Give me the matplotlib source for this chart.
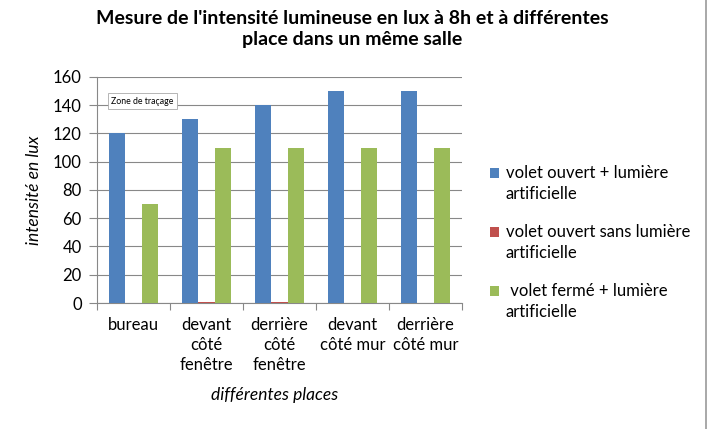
import matplotlib
matplotlib.use("Agg")
import matplotlib.pyplot as plt
import numpy as np
from matplotlib.lines import Line2D
from matplotlib.patches import Rectangle
from matplotlib.legend_handler import HandlerPatch

plt.rcParams['font.family'] = ['Lato', 'DejaVu Sans']

categories = ["bureau", "devant\ncôté\nfenêtre", "derrière\ncôté\nfenêtre", "devant\ncôté mur", "derrière\ncôté mur"]
series_names = ["volet ouvert + lumière\nartificielle",
                "volet ouvert sans lumière\nartificielle",
                " volet fermé + lumière\nartificielle"]
ouvert_lum = [120, 130, 140, 150, 150]
ouvert_sans = [0, 1, 1, 0, 0]
ferme_lum = [70, 110, 110, 110, 110]
colors = ["#4F81BD", "#C0504D", "#9BBB59"]
yticks = [0, 20, 40, 60, 80, 100, 120, 140, 160]

fig = plt.figure(figsize=(7.1, 4.29), dpi=100)
ax = fig.add_axes([97/710, 1-303/429, 365/710, 226/429])

x = np.arange(len(categories))
w = 0.22
for i, (vals, name, c) in enumerate(zip([ouvert_lum, ouvert_sans, ferme_lum], series_names, colors)):
    ax.bar(x + (i-1)*w, vals, width=w, color=c, label=name, zorder=3)

ax.set_xlim(-0.5, len(categories)-0.5)
ax.set_ylim(0, 160)
ax.set_yticks(yticks)
ax.set_yticklabels([str(v) for v in yticks], fontsize=12)
ax.yaxis.grid(True, color="#888888", linewidth=0.8, zorder=0)
ax.set_xticks(np.arange(len(categories)+1) - 0.5, minor=False)
ax.set_xticklabels([])
ax.set_xticks(x, minor=True)
ax.set_xticklabels(categories, minor=True, fontsize=12, linespacing=1.3, va='top')
ax.tick_params(axis='x', which='minor', length=0, pad=10)
ax.tick_params(axis='x', which='major', length=5, direction='out', color="#888888")
ax.tick_params(axis='y', length=6, color="#888888", pad=5)
for s in ['top', 'right']:
    ax.spines[s].set_visible(False)
for s in ['left', 'bottom']:
    ax.spines[s].set_color("#888888")

ax.set_ylabel("intensité en lux", fontsize=12.5, style='italic', labelpad=8)
fig.text(275/710, 1-395/429, "différentes places", fontsize=12.5, style='italic', ha='center', va='center')

fig.text(352/710, 1-29/429, "Mesure de l'intensité lumineuse en lux à 8h et à différentes\nplace dans un même salle",
         fontsize=14, fontweight='bold', ha='center', va='center', linespacing=1.25)

ax.text(111/710, 1-101/429, "Zone de traçage", fontsize=6.3, transform=fig.transFigure, va='center', ha='left',
        bbox=dict(boxstyle='square,pad=0.4', fc='white', ec='#aaaaaa', lw=0.6), zorder=5)


def top_patch(legend, orig_handle, xdescent, ydescent, width, height, fontsize):
    return Rectangle((-xdescent, -ydescent + 8), width, height)


proxies = [Rectangle((0, 0), 1, 1, facecolor=c, edgecolor='none') for c in colors]
leg = fig.legend(handles=proxies, labels=series_names,
                 loc='upper left', bbox_to_anchor=(475/710, 1-150/429), frameon=False,
                 fontsize=12, handlelength=0.55, handleheight=0.55, handletextpad=0.4,
                 labelspacing=1.3,
                 handler_map={Rectangle: HandlerPatch(patch_func=top_patch)})
for t in leg.get_texts():
    t.set_linespacing(1.4)

fig.add_artist(Line2D([706/710, 706/710], [0, 1], color="#999999", lw=1.2, transform=fig.transFigure))

fig.savefig("out.png", dpi=100)
